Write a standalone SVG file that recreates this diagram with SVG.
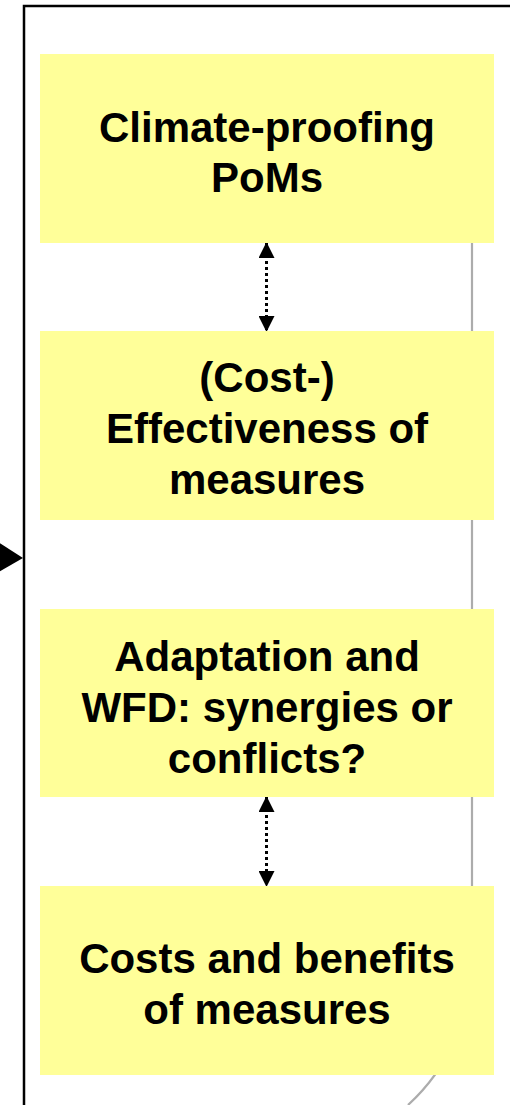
<svg xmlns="http://www.w3.org/2000/svg" width="510" height="1105" viewBox="0 0 510 1105">
<style>
.box{fill:#ffff99;}
.t{font-family:"Liberation Sans",Arial,sans-serif;font-weight:bold;font-size:42px;fill:#000;text-anchor:middle;}
.dot{stroke:#000;stroke-width:3;stroke-dasharray:3 3;fill:none;}
</style>
<defs>
<marker id="ah" markerWidth="16" markerHeight="16" refX="15" refY="8" orient="auto-start-reverse" markerUnits="userSpaceOnUse">
<path d="M0,0 L16,8 L0,16 Z" fill="#000"/>
</marker>
</defs>
<g id="frame">
<path d="M24,1105 V6 H510" fill="none" stroke="#000" stroke-width="2.5"/>
<path d="M472,100 V960 A197,197 0 0 1 408,1105" fill="none" stroke="#acacac" stroke-width="2.2"/>
<path d="M-5,540 L23,558 L-5,574 Z" fill="#000"/>
</g>
<g id="connectors">
<line class="dot" x1="266.5" y1="243" x2="266.5" y2="331" marker-start="url(#ah)" marker-end="url(#ah)"/>
<line class="dot" x1="266.5" y1="797" x2="266.5" y2="886" marker-start="url(#ah)" marker-end="url(#ah)"/>
</g>
<g id="node1">
<rect class="box" x="40" y="54" width="454" height="189"/>
<text class="t" x="267" y="142">Climate-proofing</text>
<text class="t" x="267" y="192">PoMs</text>
</g>
<g id="node2">
<rect class="box" x="40" y="331" width="454" height="189"/>
<text class="t" x="267" y="392">(Cost-)</text>
<text class="t" x="267" y="443">Effectiveness of</text>
<text class="t" x="267" y="494">measures</text>
</g>
<g id="node3">
<rect class="box" x="40" y="609" width="454" height="188"/>
<text class="t" x="267" y="671">Adaptation and</text>
<text class="t" x="267" y="722">WFD: synergies or</text>
<text class="t" x="267" y="773">conflicts?</text>
</g>
<g id="node4">
<rect class="box" x="40" y="886" width="454" height="189"/>
<text class="t" x="267" y="973">Costs and benefits</text>
<text class="t" x="267" y="1024">of measures</text>
</g>
</svg>
